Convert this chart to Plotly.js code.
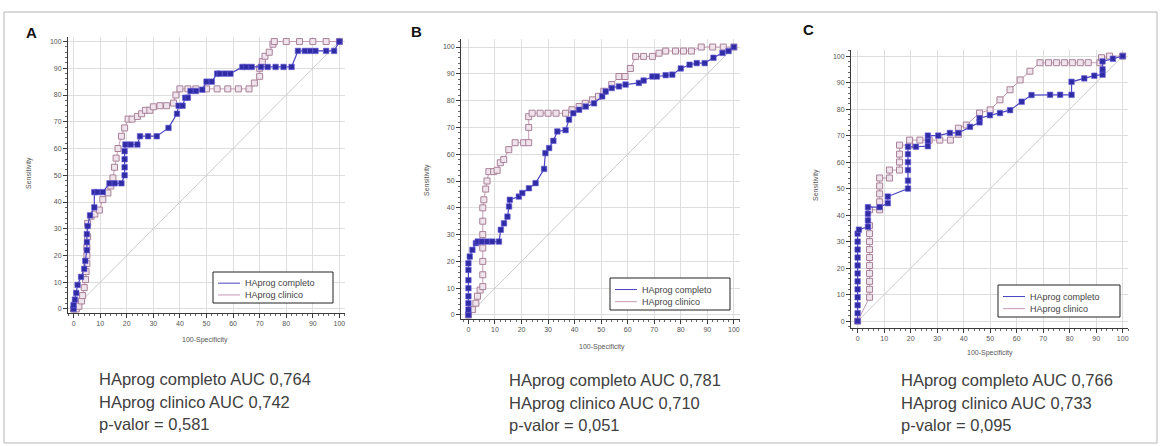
<!DOCTYPE html>
<html>
<head>
<meta charset="utf-8">
<script src="https://cdn.plot.ly/plotly-3.0.1.min.js"></script>
<style>
  html, body { margin: 0; padding: 0; background: #ffffff; }
  #chart { width: 1161px; height: 446px; }
</style>
</head>
<body>
<div id="chart"></div>
<script>
// ROC curves: 100-Specificity (x) vs Sensitivity (y), three cohorts

// Panel A
const aCompX = [0,0,0.5,1,1.5,2.8,4,4.4,5,5,5,5.3,6.2,7.8,7.8,9,11,13.5,15.5,18,19.2,19.2,19.2,19.2,19.5,21.5,24,25,28,31.3,35.7,38.9,39.5,41,42,43,44,46,48.4,50,52,54,55,57,59,63.5,65,67,70.5,73,76,79,82,84.4,87,89,91,95,98,100];
const aCompY = [0,1.5,3.5,6,9,12,15,18,22,25,28,31,35,38,43.7,43.7,43.7,47,47,47,50,53,56,59,61.5,61.5,61.5,64.6,64.6,64.6,67.7,73,76,76,79,79,81.5,81.5,82,85,85,88,88,88,88,90.5,90.5,90.5,90.5,90.5,90.5,90.5,90.5,96.5,96.5,96.5,96.5,96.5,96.5,100];
const aClinX = [0,1,2,3,3.4,4,4.5,4.7,5,5,5,5.3,5.3,6.6,8,9.7,11,12.9,14,14.8,15.4,16,16.7,18,19.2,20.5,22,24,25.6,27,28.7,30,32.5,35,37.6,38.5,40,43,46,50,54,58,62,66,68,70,70,71,72,73.6,75,75.5,80,85,90,95,100];
const aClinY = [0,0,1,3,5,8,11,14,17,20,23,27,32,34.7,35.5,37,40.9,43.4,46,49,53,56.4,60,64.6,67.7,71,71,72,73,74.3,74.3,75.6,76,76,77,80,82.3,82.3,82.3,82.3,82.3,82.3,82.3,82.3,84.5,87,90,92.5,94.5,96,99,100,100,100,100,100,100];

// Panel B
const bCompX = [0,0,0,0,0,0,0,0,0.5,1.5,2.8,3.5,5,7,9,11.5,12.2,13.4,14.7,15.3,15.6,19,20.3,22.8,25.3,28.5,29,30.4,32,33.5,36.6,37.9,39.5,41.7,44.2,47.3,50.4,51.7,54,56.7,59.2,64.2,66,69.3,71,74.3,76.8,80,83.3,86,89,92.3,95.7,98,100];
const bCompY = [0,2,4.4,7,10,13,16.8,19.3,21.8,24.3,26.8,27.4,27.4,27.4,27.4,27.4,31.8,34.2,36.7,40.5,43,44.2,45.5,47.3,49.2,54.5,60.4,62.3,65,68.5,69,72.9,75.3,76.6,77.8,79,81.6,83.4,84.7,85.3,86,86.6,87.5,89,89,89.5,89.7,92,93.4,94,94,96,97.8,98.5,100];
const bClinX = [0,1.5,2.8,3.4,4.4,5.4,5.4,5.4,5.4,5.4,5.4,5.4,5.8,6.5,7,7.7,9.5,10.8,12,13.3,15.2,17.6,20.8,22.7,22.7,22.7,24,27,30,33,36.6,39,41.7,44,46.7,49,51,54,56.7,59,61,63,66,69.3,71.8,74.3,78,81,84,87.7,92,96,100];
const bClinY = [0,2,4.4,7,9.3,10.6,15,20,25,30,35,40,43,47,50,53.5,53.5,54,56.8,58,61.7,64.3,64.3,64.3,70,74,75.3,75.3,75.3,75.3,75.3,76.6,77.8,79,80.3,81.6,83.5,86,89,89,92,96.5,96.5,96.5,97.7,98.5,98.5,98.5,98.5,100,100,100,100];

// Panel C
const cCompX = [0,0,0,0,0,0,0,0,0,0,0,0,0.5,3.9,3.9,3.9,3.9,8.3,11.4,11.4,19,19,19,19,19,19,22,26.5,26.5,26.5,30.4,34.8,38,42.4,46,46,49.9,53.7,57.5,61.9,65.6,72.6,76.4,80.7,80.7,85.5,89.3,92.4,92.4,92.4,96.3,100];
const cCompY = [0,3,6,9,12,15,18,21,24,27,30,33,34.5,35.6,38,40.5,43,43,44.5,47,50,53,57,60,63,65.8,65.8,66,68,70,70,71,71,73.3,75,76.6,77.7,78.5,79.6,82.8,85.3,85.4,85.4,85.4,90.3,91.6,92.6,93,95,98,99,100];
const cClinX = [0,4.5,4.5,4.5,4.5,4.5,4.5,4.5,4.5,4.5,4.5,4.5,8.3,8.3,8.3,8.3,8.3,12,12,15.8,15.8,15.8,15.8,19.6,19.6,23.5,27,31,35,38,38,41,46,50,53.7,57.5,61.3,65,68.8,72,75,78,81,84,87,91.4,92,95,100];
const cClinY = [0,9,12,15,18,21,24,27,30,33,36,42,42,45,48,51,54,54,57,57,60,63,66.4,66.4,68.3,68.3,68.3,68.3,68.3,70.5,72.8,74,78.5,79.7,83.5,87.3,91,94.3,97.5,97.5,97.5,97.5,97.5,97.5,97.5,97.5,99.4,100,100];

// Chance line
const diagX = [0, 100];
const diagY = [0, 100];

// Series names and panel captions
const seriesNames = ['HAprog completo', 'HAprog clinico'];
const panelLetters = ['A', 'B', 'C'];
const statsA = ['HAprog completo AUC 0,764', 'HAprog clinico AUC 0,742', 'p-valor = 0,581'];
const statsB = ['HAprog completo AUC 0,781', 'HAprog clinico AUC 0,710', 'p-valor = 0,051'];
const statsC = ['HAprog completo AUC 0,766', 'HAprog clinico AUC 0,733', 'p-valor = 0,095'];
const xTitle = '100-Specificity';
const yTitle = 'Sensitivity';

const W = 1161, H = 446;
const px = v => v / W;
const py = v => 1 - v / H;

const COMP_LINE = '#4b45c2';
const COMP_MARK = '#302ca6';
const CLIN_LINE = '#c49ab4';
const CLIN_MARK = '#a88098';
const FONT = '"Liberation Sans", Arial, sans-serif';

const panels = [
  { ax: '', comp: [aCompX, aCompY], clin: [aClinX, aClinY], stats: statsA, letter: panelLetters[0],
    box: [68, 345, 37, 313], xr: [-2.1, 102.1], yr: [-1.5, 101.7],
    letterPos: [31.5, 33], statsX: 97, statsY: [379, 402, 424],
    ytPos: [29, 173], xtPos: [205, 340], leg: [213, 272, 120, 31] },
  { ax: '2', comp: [bCompX, bCompY], clin: [bClinX, bClinY], stats: statsB, letter: panelLetters[1],
    box: [461, 740, 39, 319], xr: [-2.8, 102.3], yr: [-1.5, 103.0],
    letterPos: [416, 32], statsX: 507, statsY: [380, 403, 425],
    ytPos: [427, 180], xtPos: [602, 347], leg: [610, 278, 120, 32] },
  { ax: '3', comp: [cCompX, cCompY], clin: [cClinX, cClinY], stats: statsC, letter: panelLetters[2],
    box: [851, 1128, 50, 328], xr: [-2.5, 102.0], yr: [-2.6, 102.3],
    letterPos: [808, 30], statsX: 899, statsY: [380, 403, 425],
    ytPos: [816, 185], xtPos: [990, 353], leg: [998, 285, 122, 32] }
];

const traces = [];
const layout = {
  width: W, height: H,
  margin: { l: 0, r: 0, t: 0, b: 0 },
  paper_bgcolor: '#ffffff',
  plot_bgcolor: '#ffffff',
  showlegend: false,
  font: { family: FONT, color: '#444' },
  annotations: [],
  shapes: [
    // outer frame
    { type: 'rect', xref: 'paper', yref: 'paper', x0: px(4), x1: px(1157), y0: py(443), y1: py(12),
      line: { color: '#b4b4b4', width: 1 }, fillcolor: 'rgba(0,0,0,0)' }
  ]
};

function axisBase() {
  return {
    showline: true, linecolor: '#3a3a3a', linewidth: 1, mirror: false,
    ticks: 'outside', ticklen: 4, tickwidth: 1, tickcolor: '#3a3a3a',
    tick0: 0, dtick: 10,
    showgrid: true, gridcolor: '#dedede', gridwidth: 1, zeroline: false,
    tickfont: { size: 7, color: '#555', family: FONT },
    minor: { tick0: 0, dtick: 2, ticks: 'outside', ticklen: 2, tickcolor: '#666', showgrid: false },
    fixedrange: true
  };
}

panels.forEach(p => {
  const xa = 'x' + p.ax, ya = 'y' + p.ax;

  traces.push({ x: diagX, y: diagY, xaxis: xa, yaxis: ya, mode: 'lines',
    line: { color: '#cccccc', width: 1 }, hoverinfo: 'skip' });
  traces.push({ x: p.clin[0], y: p.clin[1], xaxis: xa, yaxis: ya, mode: 'lines+markers',
    name: seriesNames[1],
    line: { color: CLIN_LINE, width: 1 },
    marker: { symbol: 'square', size: 6, color: '#efe4ec', line: { color: CLIN_MARK, width: 1 } } });
  traces.push({ x: p.comp[0], y: p.comp[1], xaxis: xa, yaxis: ya, mode: 'lines+markers',
    name: seriesNames[0],
    line: { color: COMP_LINE, width: 1.2 },
    marker: { symbol: 'square', size: 5.5, color: COMP_MARK, line: { color: '#6a60d8', width: 0.6 } } });

  const xaxis = Object.assign(axisBase(), {
    domain: [px(p.box[0]), px(p.box[1])], range: p.xr, anchor: ya
  });
  const yaxis = Object.assign(axisBase(), {
    domain: [py(p.box[3]), py(p.box[2])], range: p.yr, anchor: xa
  });
  layout['xaxis' + p.ax] = xaxis;
  layout['yaxis' + p.ax] = yaxis;

  // panel letter
  layout.annotations.push({ xref: 'paper', yref: 'paper', x: px(p.letterPos[0]), y: py(p.letterPos[1]),
    xanchor: 'center', yanchor: 'middle', showarrow: false, text: '<b>' + p.letter + '</b>',
    font: { size: 15, color: '#111', family: FONT } });

  // axis titles
  layout.annotations.push({ xref: 'paper', yref: 'paper', x: px(p.ytPos[0]), y: py(p.ytPos[1]),
    xanchor: 'center', yanchor: 'middle', showarrow: false, text: yTitle, textangle: -90,
    font: { size: 7, color: '#555', family: FONT } });
  layout.annotations.push({ xref: 'paper', yref: 'paper', x: px(p.xtPos[0]), y: py(p.xtPos[1]),
    xanchor: 'center', yanchor: 'middle', showarrow: false, text: xTitle,
    font: { size: 7, color: '#555', family: FONT } });

  // AUC / p-value captions
  p.stats.forEach((t, i) => {
    layout.annotations.push({ xref: 'paper', yref: 'paper', x: px(p.statsX), y: py(p.statsY[i]),
      xanchor: 'left', yanchor: 'middle', showarrow: false, text: t,
      font: { size: 16.5, color: '#404040', family: FONT } });
  });

  // legend box
  const [lx, ly, lw, lh] = p.leg;
  layout.shapes.push({ type: 'rect', xref: 'paper', yref: 'paper',
    x0: px(lx), x1: px(lx + lw), y0: py(ly + lh), y1: py(ly),
    line: { color: '#222', width: 1 }, fillcolor: '#ffffff' });
  const rows = [ly + lh * 0.36, ly + lh * 0.74];
  const colors = [COMP_LINE, CLIN_LINE];
  rows.forEach((ry, i) => {
    layout.shapes.push({ type: 'line', xref: 'paper', yref: 'paper',
      x0: px(lx + 5), x1: px(lx + 27), y0: py(ry), y1: py(ry),
      line: { color: colors[i], width: 1 } });
    layout.annotations.push({ xref: 'paper', yref: 'paper', x: px(lx + 30), y: py(ry),
      xanchor: 'left', yanchor: 'middle', showarrow: false, text: seriesNames[i],
      font: { size: 9, color: '#444', family: FONT } });
  });
});

Plotly.newPlot('chart', traces, layout, { staticPlot: true, displayModeBar: false });
</script>
</body>
</html>
